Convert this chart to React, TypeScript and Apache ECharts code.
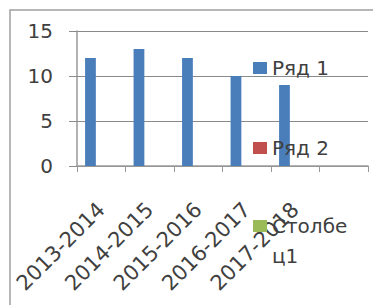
import React, { useEffect, useRef } from "react";
import * as echarts from "echarts";

const categories = ["2013-2014", "2014-2015", "2015-2016", "2016-2017", "2017-2018", ""];
const seriesNames = ["Ряд 1", "Ряд 2", "Столбец1"];
const series1 = [12, 13, 12, 10, 9, null];
const series2: (number | null)[] = [null, null, null, null, null, null];
const series3: (number | null)[] = [null, null, null, null, null, null];
const colors = ["#4A7EBB", "#C0504D", "#9BBB59"];

const FONT = "DejaVu Sans";
const TXT = "#404040";

export default function App() {
  const ref = useRef<HTMLDivElement>(null);
  useEffect(() => {
    const chart = echarts.init(ref.current!, null, { renderer: "svg" });
    const legendBase = {
      orient: "vertical" as const,
      left: 248,
      itemWidth: 14,
      itemHeight: 12,
      icon: "rect",
      textStyle: { fontFamily: FONT, fontSize: 20, color: TXT },
    };
    chart.setOption({
      animation: false,
      backgroundColor: "#ffffff",
      color: colors,
      graphic: [
        {
          type: "rect",
          shape: { x: 10, y: 10, width: 380, height: 300 },
          style: { fill: "none", stroke: "#a0a0a0", lineWidth: 1.5 },
          z: -1,
        },
      ],
      grid: { left: 77, right: 5, top: 31, bottom: 139, containLabel: false },
      legend: [
        { ...legendBase, top: 53, data: [seriesNames[0]] },
        { ...legendBase, top: 133, data: [seriesNames[1]] },
        {
          ...legendBase,
          top: 206,
          itemHeight: 42,
          icon: "path://M0 0H14V12H0Z M0 42L0.01 42",
          data: [seriesNames[2]],
          textStyle: {
            fontFamily: FONT,
            fontSize: 20,
            color: TXT,
            lineHeight: 30,
            width: 124,
            overflow: "break",
          },
        },
      ],
      xAxis: {
        type: "category",
        data: categories,
        boundaryGap: true,
        axisLine: { show: true, lineStyle: { color: "#9a9a9a", width: 1.5 } },
        axisTick: { show: true, length: 6, lineStyle: { color: "#9a9a9a" } },
        axisLabel: {
          rotate: 45,
          interval: 0,
          margin: 40,
          fontFamily: FONT,
          fontSize: 21,
          color: TXT,
        },
      },
      yAxis: {
        type: "value",
        min: 0,
        max: 15,
        interval: 5,
        axisLine: { show: true, lineStyle: { color: "#9a9a9a", width: 1.5 } },
        axisTick: { show: true, length: 8, lineStyle: { color: "#8a8a8a" } },
        splitLine: { show: true, lineStyle: { color: "#8a8a8a", width: 1 } },
        axisLabel: { margin: 24, fontFamily: FONT, fontSize: 20, color: TXT },
      },
      series: [
        { name: seriesNames[0], type: "bar", data: series1, barGap: "0%", barCategoryGap: "33.3%" },
        { name: seriesNames[1], type: "bar", data: series2, barGap: "0%", barCategoryGap: "33.3%" },
        { name: seriesNames[2], type: "bar", data: series3, barGap: "0%", barCategoryGap: "33.3%" },
      ],
    });
    return () => chart.dispose();
  }, []);
  return (
    <div
      ref={ref}
      style={{ position: "fixed", left: 0, top: 0, width: 373, height: 305 }}
    />
  );
}
